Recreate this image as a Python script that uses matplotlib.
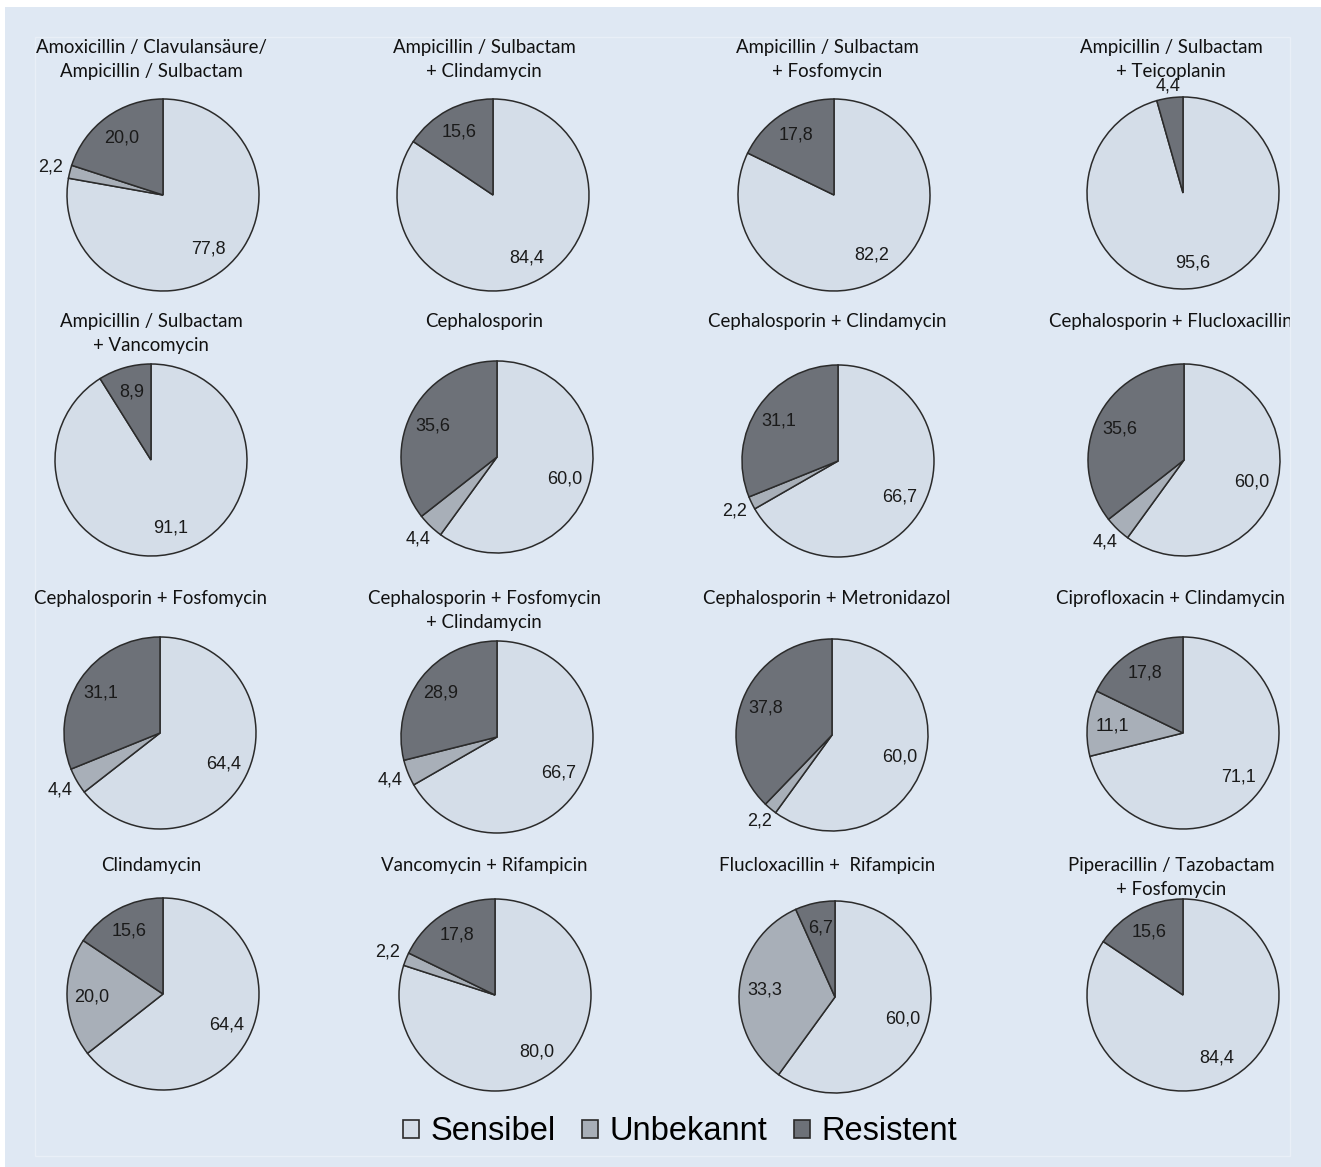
import matplotlib
matplotlib.use('Agg')
import matplotlib.pyplot as plt
from matplotlib.patches import Rectangle, Patch
import numpy as np

#data
titles = [
    'Amoxicillin / Clavulansäure/\nAmpicillin / Sulbactam',
    'Ampicillin / Sulbactam\n+ Clindamycin',
    'Ampicillin / Sulbactam\n+ Fosfomycin',
    'Ampicillin / Sulbactam\n+ Teicoplanin',
    'Ampicillin / Sulbactam\n+ Vancomycin',
    'Cephalosporin',
    'Cephalosporin + Clindamycin',
    'Cephalosporin + Flucloxacillin',
    'Cephalosporin + Fosfomycin',
    'Cephalosporin + Fosfomycin\n+ Clindamycin',
    'Cephalosporin + Metronidazol',
    'Ciprofloxacin + Clindamycin',
    'Clindamycin',
    'Vancomycin + Rifampicin',
    'Flucloxacillin +  Rifampicin',
    'Piperacillin / Tazobactam\n+ Fosfomycin',
]
sensibel = [77.8, 84.4, 82.2, 95.6, 91.1, 60.0, 66.7, 60.0, 64.4, 66.7, 60.0, 71.1, 64.4, 80.0, 60.0, 84.4]
unbekannt = [2.2, 0, 0, 0, 0, 4.4, 2.2, 4.4, 4.4, 4.4, 2.2, 11.1, 20.0, 2.2, 33.3, 0]
resistent = [20.0, 15.6, 17.8, 4.4, 8.9, 35.6, 31.1, 35.6, 31.1, 28.9, 37.8, 17.8, 15.6, 17.8, 6.7, 15.6]
categories = ['Sensibel', 'Unbekannt', 'Resistent']
colors = ['#d4dde8', '#a8afb8', '#6d7178']

#layout (pixels)
W, H = 1321, 1167
centers = [(163, 195), (493, 195), (834, 195), (1183, 193),
           (151, 460), (497, 457), (838, 461), (1184, 460),
           (160, 733), (497, 737), (832, 735), (1183, 733),
           (163, 994), (495, 995), (835, 997), (1183, 995)]
title_x = [151, 484, 827, 1171]
title_top = [39, 313, 590, 857]
R = 96
lim = 1.4

fig = plt.figure(figsize=(W / 100, H / 100), dpi=100)
fig.patch.set_facecolor('white')
bg = Rectangle((5 / W, 0), (W - 5) / W, (H - 7) / H, transform=fig.transFigure,
               facecolor='#dfe8f3', edgecolor='none', zorder=-10)
fig.patches.append(bg)
inner = Rectangle((35 / W, 1 - 1156 / H), (1290 - 35) / W, (1156 - 37) / H,
                  transform=fig.transFigure, facecolor='none',
                  edgecolor='#e9eff7', linewidth=1, zorder=-9)
fig.patches.append(inner)
# titles get cut at the right edge of the inner panel
clip = Rectangle((0, 0), 1290 / W, 1, transform=fig.transFigure, visible=False)
fig.patches.append(clip)

for i in range(16):
    cx, cy = centers[i]
    size = 2 * lim * R
    ax = fig.add_axes([(cx - size / 2) / W, 1 - (cy + size / 2) / H, size / W, size / H])

    vals = [sensibel[i], unbekannt[i], resistent[i]]
    keep = [k for k in range(3) if vals[k] > 0]
    wedges, _ = ax.pie([vals[k] for k in keep], colors=[colors[k] for k in keep],
                       startangle=90, counterclock=False, radius=1,
                       wedgeprops=dict(edgecolor='#2b2b2b', linewidth=1.1))
    ax.set_xlim(-lim, lim)
    ax.set_ylim(-lim, lim)
    ax.set_aspect('equal')
    ax.axis('off')
    for w, k in zip(wedges, keep):
        mid = np.deg2rad((w.theta1 + w.theta2) / 2)
        if vals[k] < 5:
            d = 1.11 + 0.1 * abs(np.cos(mid))
        else:
            d = 0.74
        ax.text(d * np.cos(mid), d * np.sin(mid), f'{vals[k]:.1f}'.replace('.', ','),
                ha='center', va='center', fontsize=13, family='Liberation Sans',
                color='#1a1a1a')

    t = fig.text(title_x[i % 4] / W, 1 - title_top[i // 4] / H, titles[i],
                 ha='center', va='top', fontsize=13.4, family='Lato',
                 linespacing=1.48, color='#111111')
    t.set_clip_path(clip)

handles = [Patch(facecolor=c, edgecolor='#2b2b2b', linewidth=1.2) for c in colors]
fig.legend(handles, categories, loc='center', bbox_to_anchor=(680 / W, 1 - 1132 / H),
           ncol=3, frameon=False, prop={'family': 'Liberation Sans', 'size': 23.5},
           handlelength=0.5, handleheight=0.5, handletextpad=0.35, columnspacing=0.8,
           borderpad=0)

plt.savefig('out.png', dpi=100)
